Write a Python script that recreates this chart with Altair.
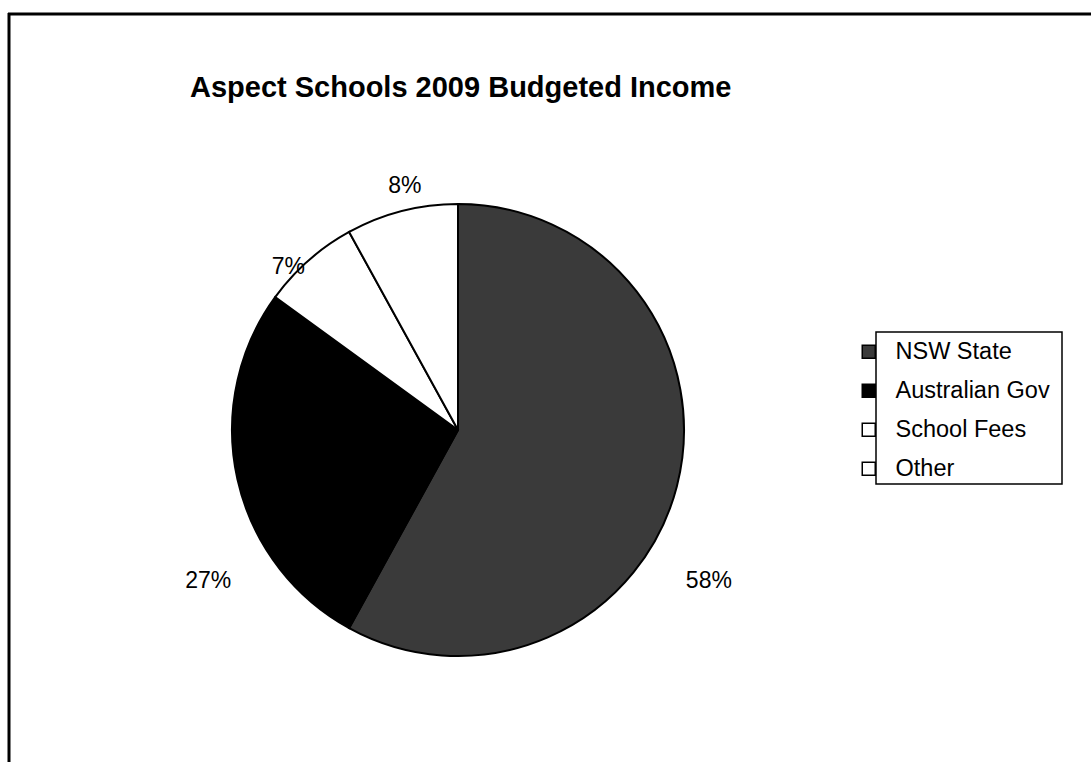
import altair as alt
import pandas as pd

categories = ["NSW State", "Australian Gov", "School Fees", "Other"]
values = [58, 27, 7, 8]
labels = ["58%", "27%", "7%", "8%"]
colors = ["#3a3a3a", "#000000", "#ffffff", "#ffffff"]

df = pd.DataFrame({
    "category": categories,
    "value": values,
    "label": labels,
    "idx": list(range(len(categories))),
})

FONT = "Liberation Sans"
W, H = 916, 640
theta_scale = alt.Scale(domain=[0, 100])

color = alt.Color(
    "category:N",
    sort=categories,
    scale=alt.Scale(domain=categories, range=colors),
    legend=alt.Legend(
        title=None, orient="none", legendX=857, legendY=230,
        symbolType="square", symbolSize=169,
        symbolStrokeColor="black", symbolStrokeWidth=1.5,
        labelFont=FONT, labelFontSize=23.5, labelColor="black",
        labelOffset=15, rowPadding=14, padding=0, labelLimit=300,
    ),
)

base = alt.Chart(df)

pie = base.mark_arc(outerRadius=226, stroke="black", strokeWidth=2).encode(
    theta=alt.Theta("value:Q", stack=True, scale=theta_scale),
    color=color,
    order=alt.Order("idx:Q", sort="ascending"),
)

cum = base.transform_window(
    cum="sum(value)", sort=[alt.SortField("idx")], frame=[None, 0]
).transform_calculate(mid="datum.cum - datum.value / 2")


def label_layer(cat, r, dx, dy):
    return cum.transform_filter(alt.datum.category == cat).mark_text(
        radius=r, dx=dx, dy=dy, font=FONT, fontSize=23, color="black",
        align="center", baseline="middle",
    ).encode(
        theta=alt.Theta("mid:Q", scale=theta_scale, stack=None),
        text="label:N",
    )


lbls = [
    label_layer("NSW State", 259, 0, 87),
    label_layer("Australian Gov", 256, 0, 95),
    label_layer("School Fees", 240, -11, 17),
    label_layer("Other", 250, 9, -2),
]

deco = alt.Chart(pd.DataFrame({"k": [0]}))
legend_box = deco.mark_rect(fillOpacity=0, stroke="black", strokeWidth=1.5).encode(
    x=alt.value(876), x2=alt.value(1062), y=alt.value(222), y2=alt.value(374)
)
top_rule = deco.mark_rule(color="black", strokeWidth=3).encode(
    x=alt.value(8), x2=alt.value(1091), y=alt.value(-96)
)
left_rule = deco.mark_rule(color="black", strokeWidth=3).encode(
    x=alt.value(9), y=alt.value(-97), y2=alt.value(652)
)

chart = alt.layer(pie, *lbls, legend_box, top_rule, left_rule).properties(
    width=W, height=H,
    autosize="none",
    padding={"left": 0, "top": 110, "right": 175, "bottom": 12},
    background="white",
    title=alt.TitleParams(
        "Aspect Schools 2009 Budgeted Income",
        anchor="start", frame="group", dx=190, dy=114, offset=0,
        baseline="alphabetic", font=FONT, fontSize=29,
        fontWeight="bold", color="black",
    ),
).configure_view(stroke=None)

chart.save("out.html", embed_options={"renderer": "svg", "actions": False})
